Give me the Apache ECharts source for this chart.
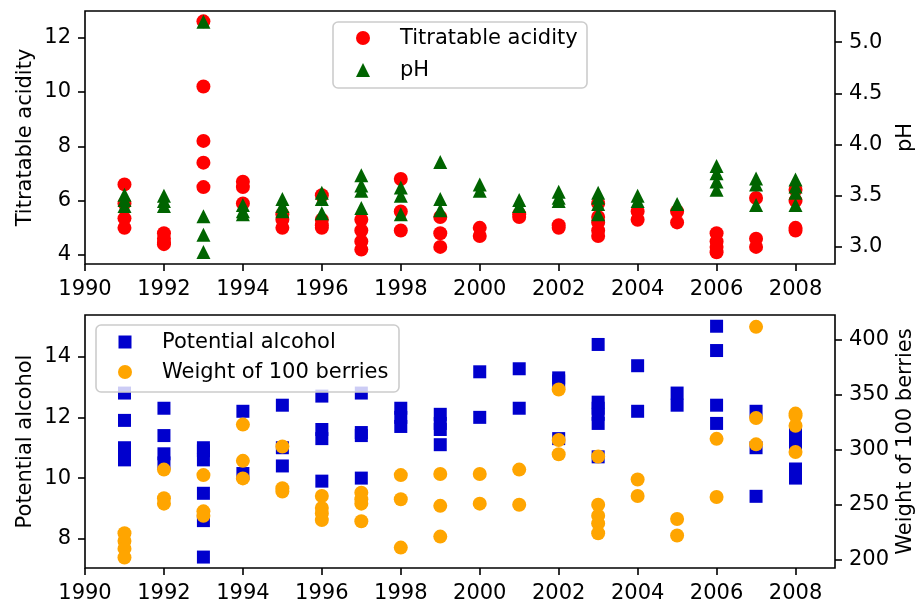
<!DOCTYPE html>
<html>
<head>
<meta charset="utf-8">
<script src="https://cdn.jsdelivr.net/npm/echarts@6/dist/echarts.min.js"></script>
<style>
  html, body { margin: 0; padding: 0; background: #fff; }
  #chart { width: 915px; height: 602px; }
</style>
</head>
<body>
<div id="chart"></div>
<script>
// one entry per vintage, several measurements per year
const years = [1991, 1992, 1993, 1994, 1995, 1996, 1997, 1998, 1999,
  2000, 2001, 2002, 2003, 2004, 2005, 2006, 2007, 2008]

const acidity = [
  [6.6, 5.9, 5.35, 5.0], [4.8, 4.6, 4.45, 4.4], [12.6, 10.2, 8.2, 7.4, 6.5],
  [6.7, 6.5, 5.9], [5.5, 5.3, 5.0], [6.2, 5.3, 5.1, 5.0], [5.3, 4.9, 4.5, 4.2],
  [6.8, 5.6, 4.9], [5.4, 4.8, 4.3], [5.0, 4.7], [5.5, 5.4], [5.1, 5.0],
  [5.9, 5.4, 5.2, 4.9, 4.7], [5.6, 5.3], [5.6, 5.2], [4.8, 4.5, 4.3, 4.1],
  [6.1, 4.6, 4.3], [6.4, 6.0, 5.0, 4.9]
]
const ph = [
  [3.51, 3.46, 3.4], [3.5, 3.45, 3.4], [5.2, 3.3, 3.12, 2.95], [3.41, 3.35, 3.32],
  [3.47, 3.4, 3.35], [3.53, 3.47, 3.33], [3.7, 3.6, 3.55, 3.38], [3.58, 3.5, 3.32],
  [3.83, 3.47, 3.36], [3.61, 3.55], [3.46, 3.4], [3.54, 3.48, 3.45],
  [3.53, 3.48, 3.42, 3.32], [3.5, 3.45], [3.42], [3.79, 3.72, 3.64, 3.56],
  [3.67, 3.61, 3.41], [3.66, 3.59, 3.53, 3.41]
]
const alcohol = [
  [12.8, 11.9, 11.0, 10.8, 10.6], [12.3, 11.4, 10.8, 10.5], [11.0, 10.9, 10.6, 9.5, 8.6, 7.4],
  [12.2, 10.15], [12.4, 11.0, 10.4], [12.7, 11.6, 11.3, 9.9], [12.8, 11.5, 11.4, 10.0],
  [12.3, 12.0, 11.7], [12.1, 11.8, 11.6, 11.1], [13.5, 12.0], [13.6, 12.3],
  [13.3, 13.2, 11.3], [14.4, 12.5, 12.3, 12.1, 11.8, 10.7], [13.7, 12.2], [12.8, 12.4],
  [15.0, 14.2, 12.4, 11.8], [12.2, 11.0, 9.4], [11.5, 11.3, 11.0, 10.3, 10.0]
]
const weight = [
  [224, 217, 210, 202], [282, 256, 251], [277, 244, 240], [323, 290, 274],
  [303, 265, 262], [258, 247, 242, 236], [261, 255, 251, 235], [277, 255, 211],
  [278, 249, 221], [278, 251], [282, 250], [355, 309, 296], [294, 250, 240, 233, 224],
  [273, 258], [237, 222], [310, 257], [412, 329, 305], [333, 331, 322, 298]
]

const xTicks = [1990, 1992, 1994, 1996, 1998, 2000, 2002, 2004, 2006, 2008]
const acidityTicks = [4, 6, 8, 10, 12]
const phTicks = [3.0, 3.5, 4.0, 4.5, 5.0]
const alcoholTicks = [8, 10, 12, 14]
const weightTicks = [200, 250, 300, 350, 400]

const toPoints = (vals) => years.flatMap((y, i) => vals[i].map(v => [y, v]))

const FONT = 'DejaVu Sans'
const lbl = { fontFamily: FONT, fontSize: 21, color: '#000' }
const tickStyle = { color: '#000', width: 1.6 }

function xAxis(gridIndex) {
  return {
    type: 'value', gridIndex, min: 1990, max: 2009,
    axisLine: { show: false },
    axisTick: { show: true, length: 7, customValues: xTicks, lineStyle: tickStyle },
    axisLabel: Object.assign({ margin: 15, customValues: xTicks, formatter: v => String(v) }, lbl),
    splitLine: { show: false }
  }
}
function yAxis(gridIndex, pos, min, max, ticks, name, gap, fmt) {
  return {
    type: 'value', gridIndex, position: pos, min, max,
    name, nameLocation: 'middle', nameRotate: 90, nameGap: gap,
    nameMoveOverlap: false,
    nameTextStyle: lbl,
    axisLine: { show: false },
    axisTick: { show: true, length: 7, customValues: ticks, lineStyle: tickStyle },
    axisLabel: Object.assign({ margin: 14, customValues: ticks, formatter: fmt || (v => String(v)) }, lbl),
    splitLine: { show: false }
  }
}

const chart = echarts.init(document.getElementById('chart'))
const legendBox = (x, y, w, h) => ({
  type: 'rect', z: 100, shape: { x, y, width: w, height: h, r: 5 },
  style: { fill: 'rgba(255,255,255,0.8)', stroke: '#cccccc', lineWidth: 1.6 }
})
const legendText = (x, y, t) => ({
  type: 'text', z: 101, x, y,
  style: { text: t, font: '21px "DejaVu Sans"', fill: '#000', verticalAlign: 'middle' }
})

const gridBase = { left: 85, right: 80, height: 253, show: true, borderColor: '#000', borderWidth: 1.6, outerBoundsMode: 'none' }

chart.setOption({
  animation: false,
  grid: [
    Object.assign({ top: 11 }, gridBase),
    Object.assign({ top: 315 }, gridBase)
  ],
  xAxis: [xAxis(0), xAxis(1)],
  yAxis: [
    yAxis(0, 'left', 3.67, 12.98, acidityTicks, 'Titratable acidity', 49),
    yAxis(0, 'right', 2.834, 5.305, phTicks, 'pH', 60, v => v.toFixed(1)),
    yAxis(1, 'left', 7.04, 15.37, alcoholTicks, 'Potential alcohol', 49),
    yAxis(1, 'right', 192.4, 422.8, weightTicks, 'Weight of 100 berries', 60)
  ],
  series: [
    { name: 'Titratable acidity', type: 'scatter', xAxisIndex: 0, yAxisIndex: 0,
      symbol: 'circle', symbolSize: 14, itemStyle: { color: '#ff0000', opacity: 1 },
      data: toPoints(acidity) },
    { name: 'pH', type: 'scatter', xAxisIndex: 0, yAxisIndex: 1,
      symbol: 'triangle', symbolSize: 14, itemStyle: { color: '#006400', opacity: 1 },
      data: toPoints(ph) },
    { name: 'Potential alcohol', type: 'scatter', xAxisIndex: 1, yAxisIndex: 2,
      symbol: 'rect', symbolSize: 13, itemStyle: { color: '#0000cd', opacity: 1 },
      data: toPoints(alcohol) },
    { name: 'Weight of 100 berries', type: 'scatter', xAxisIndex: 1, yAxisIndex: 3,
      symbol: 'circle', symbolSize: 14, itemStyle: { color: '#ffa500', opacity: 1 },
      data: toPoints(weight) }
  ],
  graphic: [
    legendBox(333, 22, 254, 66),
    { type: 'circle', z: 101, shape: { cx: 363, cy: 38, r: 7 }, style: { fill: '#ff0000' } },
    { type: 'polygon', z: 101, shape: { points: [[363, 63], [356, 77], [370, 77]] }, style: { fill: '#006400' } },
    legendText(400, 39, 'Titratable acidity'),
    legendText(400, 71, 'pH'),
    legendBox(96, 325, 303, 67),
    { type: 'rect', z: 101, shape: { x: 118.5, y: 335.5, width: 13, height: 13 }, style: { fill: '#0000cd' } },
    { type: 'circle', z: 101, shape: { cx: 125, cy: 372, r: 7 }, style: { fill: '#ffa500' } },
    legendText(162, 343, 'Potential alcohol'),
    legendText(162, 373, 'Weight of 100 berries')
  ]
})
</script>
</body>
</html>
